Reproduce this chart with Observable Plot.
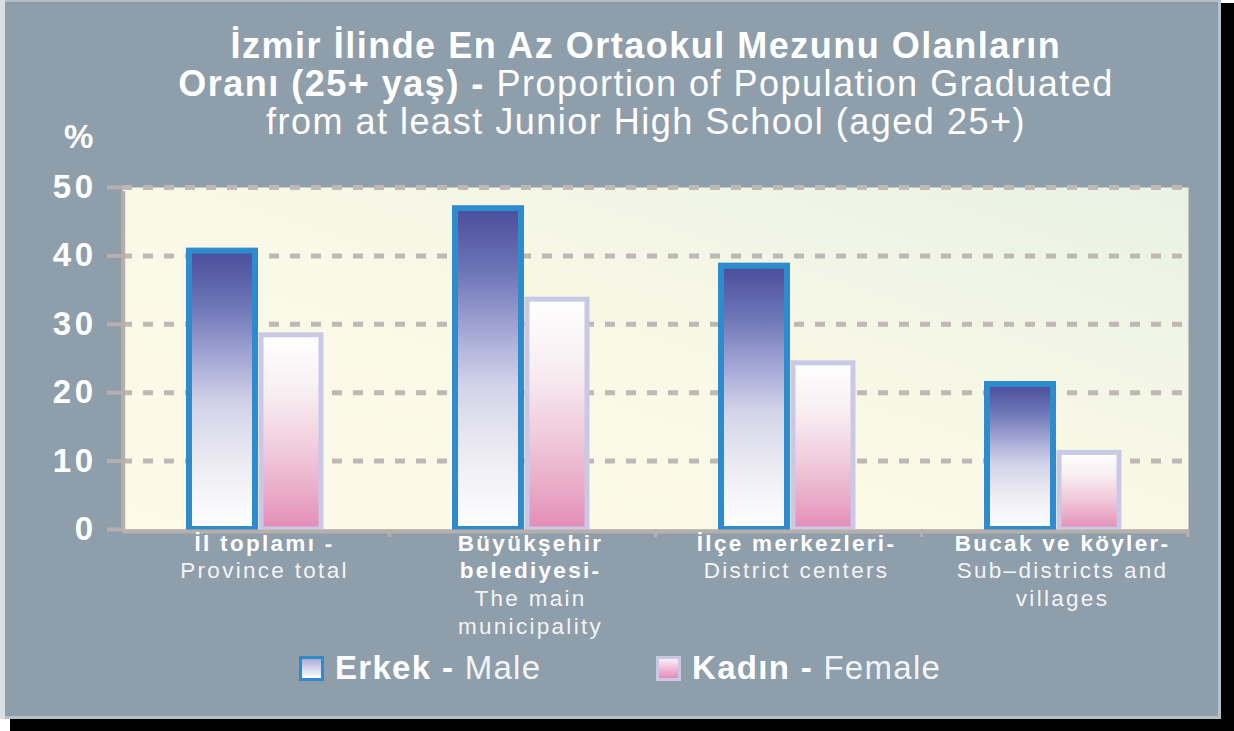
<!DOCTYPE html>
<html><head><meta charset="utf-8">
<script src="https://cdn.jsdelivr.net/npm/d3@7"></script>
<script src="https://cdn.jsdelivr.net/npm/@observablehq/plot@0.6"></script>
<style>
body{margin:0;background:#fff;width:1234px;height:731px;overflow:hidden;font-family:"Liberation Sans",Arial,sans-serif;position:relative;}
#shadowR{position:absolute;left:1221px;top:3px;width:13px;height:728px;background:#000}
#shadowB{position:absolute;left:10px;top:719px;width:1224px;height:12px;background:#000}
#card{position:absolute;left:0;top:0;width:1221px;height:719px;background:#8f9eab;
  box-shadow: inset 5px 0 0 #d9dfe4, inset 0 2px 0 #b4bec7, inset -3px -3px 0 #b7c1c9;}
#chart{position:absolute;left:0;top:0;}
#title{position:absolute;left:36px;top:27px;width:1220px;text-align:center;color:#fff;font-size:36px;line-height:38px;letter-spacing:1.5px;}
#title b{font-weight:bold}
#pct{position:absolute;left:64px;top:118px;color:#fff;font-weight:bold;font-size:33px;letter-spacing:2px;}
#legend{position:absolute;top:650px;left:0;width:1221px;color:#fff;font-size:33px;}
.item{position:absolute;top:0;white-space:nowrap;display:flex;align-items:center;height:36px}
.sw{width:19px;height:19px;margin-right:11px;box-sizing:content-box}
#swm{border:3px solid #2f8ccc;background:linear-gradient(#a9abd6,#ffffff)}
#swf{border:3px solid #c9c9e6;background:linear-gradient(#fbeef3,#e48cb6)}
.item b{font-weight:bold;letter-spacing:1.3px}
.item span{letter-spacing:1.3px;color:#f3f4f6}
g[aria-label="y-axis tick label"] text{letter-spacing:3.5px}
</style>
</head><body>
<div id="shadowR"></div><div id="shadowB"></div>
<div id="card">
  <div id="chart"></div>
  <div id="title">
    <div><b>İzmir İlinde En Az Ortaokul Mezunu Olanların</b></div>
    <div><b>Oranı (25+ yaş) -</b> Proportion of Population Graduated</div>
    <div>from at least Junior High School (aged 25+)</div>
  </div>
  <div id="pct">%</div>
  <div id="legend">
    <div class="item" style="left:299px"><div class="sw" id="swm"></div><b>Erkek -&nbsp;</b><span>Male</span></div>
    <div class="item" style="left:656px"><div class="sw" id="swf"></div><b>Kadın -&nbsp;</b><span>Female</span></div>
  </div>
</div>
<script>
// ---- data ----
const categories = ["Il", "Buyuksehir", "Ilce", "Bucak"];
const labelBold = [["İl toplamı -"], ["Büyükşehir", "belediyesi-"], ["İlçe merkezleri-"], ["Bucak ve köyler-"]];
const labelNormal = [["Province total"], ["The main", "municipality"], ["District centers"], ["Sub–districts and", "villages"]];
const male = [40.7, 46.9, 38.5, 21.2];
const female = [28.4, 33.6, 24.3, 11.2];
const yTicks = [0, 10, 20, 30, 40, 50];
const gridTicks = [10, 20, 30, 40, 50];

const maleRows = categories.map((c, i) => ({cat: c, value: male[i]}));
const femaleRows = categories.map((c, i) => ({cat: c, value: female[i]}));

// label lines: bold first, then normal
const labelRows = [];
categories.forEach((c, i) => {
  let k = 0;
  labelBold[i].forEach(t => labelRows.push({cat: c, text: t, line: k++, bold: true}));
  labelNormal[i].forEach(t => labelRows.push({cat: c, text: t, line: k++, bold: false}));
});

function defs() {
  const d = d3.create("svg:defs");
  const add = (id, stops, x1, y1, x2, y2) => {
    const g = d.append("linearGradient").attr("id", id)
      .attr("x1", x1).attr("y1", y1).attr("x2", x2).attr("y2", y2);
    stops.forEach(([o, c]) => g.append("stop").attr("offset", o).attr("stop-color", c));
  };
  add("gMale", [[0, "#4a4d9c"], [0.2, "#6e76b7"], [0.38, "#a3a6d4"], [0.55, "#d2d3e9"], [0.75, "#ebeaf2"], [1, "#ffffff"]], 0, 0, 0, 1);
  add("gFemale", [[0, "#ffffff"], [0.3, "#f8eef2"], [0.6, "#f0cadb"], [0.85, "#e8a6c5"], [1, "#e38bb5"]], 0, 0, 0, 1);
  add("gBg", [[0, "#fdfae8"], [0.5, "#faf8e6"], [1, "#e8f2e5"]], 0, 1, 1, 0);
  return d.node();
}

const axisColor = "#b7afab";
const marks = [
  defs,
  Plot.frame({fill: "url(#gBg)", stroke: null}),
  Plot.gridY(gridTicks, {stroke: "#bfb8b4", strokeOpacity: 1, strokeWidth: 5, strokeDasharray: "10,11"}),
  Plot.barY(maleRows, {x: "cat", y: "value", fill: "url(#gMale)", stroke: "#2f8ccc", strokeWidth: 6, dx: -34, insetLeft: 100, insetRight: 100}),
  Plot.barY(femaleRows, {x: "cat", y: "value", fill: "url(#gFemale)", stroke: "#c9c9e6", strokeWidth: 5, dx: 35, insetLeft: 103, insetRight: 103}),
  Plot.ruleY([0], {stroke: axisColor, strokeWidth: 4, dy: 2}),
  Plot.ruleX([categories[0]], {y1: 0, y2: 50, dx: -133.25, stroke: axisColor, strokeWidth: 4, insetBottom: -4}),
  Plot.ruleX(categories, {y1: 0, y2: 0, dx: 133.25, stroke: axisColor, strokeWidth: 3, insetBottom: -8}),
  Plot.axisY(yTicks, {tickSize: 15, tickPadding: 11, stroke: axisColor, strokeWidth: 4, fill: "#fff", fontSize: 33, fontWeight: "bold", label: null})
];
for (let line = 0; line < 4; line++) {
  for (const bold of [true, false]) {
    const rows = labelRows.filter(r => r.line === line && r.bold === bold);
    if (!rows.length) continue;
    marks.push(Plot.text(rows, {x: "cat", text: "text", frameAnchor: "bottom", dx: 8, dy: 21 + line * 27.7,
      fill: bold ? "#ffffff" : "#f3f4f6", fontSize: 22.5, fontWeight: bold ? "bold" : "normal"}));
  }
}

const chart = Plot.plot({
  width: 1221,
  height: 719,
  marginTop: 187,
  marginBottom: 190,
  marginLeft: 122,
  marginRight: 33,
  style: {background: "transparent", fontFamily: "Liberation Sans, Arial, sans-serif", letterSpacing: "2.3px", overflow: "visible"},
  x: {type: "band", domain: categories, padding: 0, axis: null},
  y: {domain: [0, 50], axis: null},
  marks
});
document.getElementById("chart").append(chart);
</script>
</body></html>
